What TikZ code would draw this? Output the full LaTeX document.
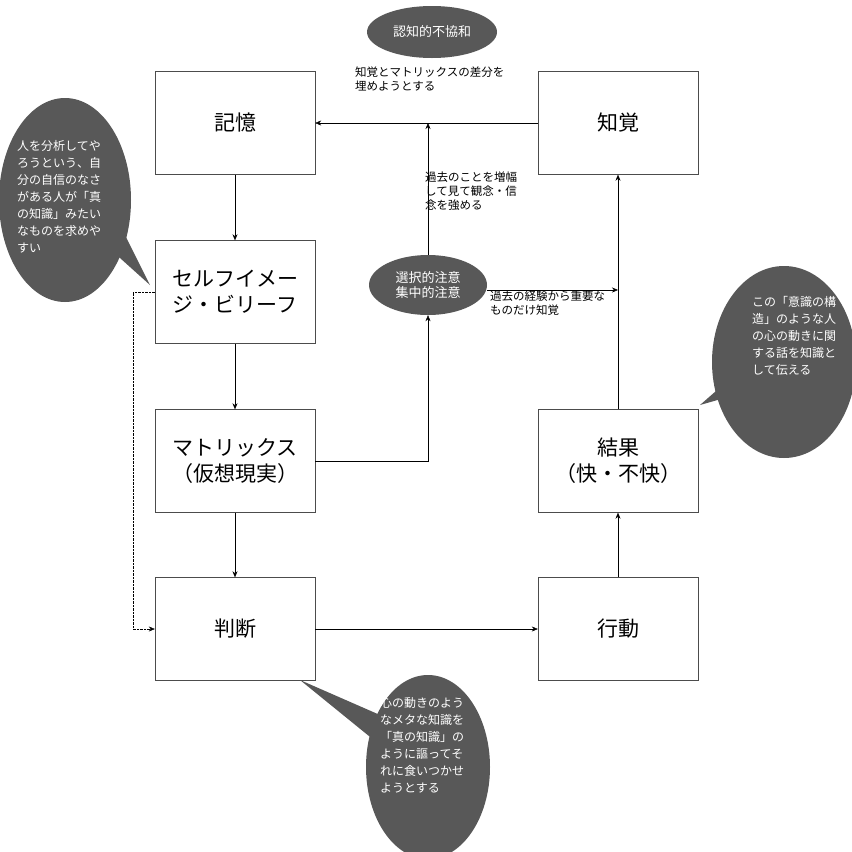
\documentclass[tikz,border=0pt]{standalone}
\usepackage{fontspec}
\setmainfont{Noto Sans CJK JP}
\usetikzlibrary{positioning,shapes.geometric,arrows.meta}
\definecolor{bubble}{HTML}{585858}
\begin{document}
\begin{tikzpicture}
  [x=1pt,y=-1pt,>={Stealth[length=6pt,width=5pt]},
  stage/.style={rectangle,draw=black!70,fill=white,thin,
                minimum width=160pt,minimum height=103pt,font=\fontsize{21}{26}\selectfont,align=center},
  focus/.style={ellipse,fill=bubble,text=white,inner sep=0pt,font=\fontsize{13}{15}\selectfont,align=center},
  note/.style={font=\fontsize{11.5}{14}\selectfont,align=left,inner sep=0pt,anchor=north west},
  talk/.style={fill=bubble,draw=none},
  talktext/.style={text=white,font=\fontsize{12}{17}\selectfont,align=left,inner sep=0pt,anchor=north west}]
  \useasboundingbox (0,0) rectangle (852,852);

  % callout bubbles
  \fill[talk] (65,200) ellipse (66pt and 102pt);
  \fill[talk] (100,240) -- (150,285) -- (115,215) -- cycle;
  \fill[talk] (784,362) ellipse (72pt and 96pt);
  \fill[talk] (740,370) -- (700,405) -- (735,395) -- cycle;
  \fill[talk] (428,767) ellipse (62pt and 92pt);
  \fill[talk] (380,715) -- (300,680) -- (380,745) -- cycle;
  \node[talktext] (leftnote)  at (17,140) {人を分析してや\\ろうという、自\\分の自信のなさ\\がある人が「真\\の知識」みたい\\なものを求めや\\すい};
  \node[talktext] (rightnote) at (752,296) {この「意識の構\\造」のような人\\の心の動きに関\\する話を知識と\\して伝える};
  \node[talktext] (downnote)  at (380,697) {心の動きのよう\\なメタな知識を\\「真の知識」の\\ように謳ってそ\\れに食いつかせ\\ようとする};

  % stages
  \node[stage] (memory)    at (235,123) {記憶};
  \node[stage] (perceive)  at (618,123) {知覚};
  \node[stage] (selfimage) at (235,292) {セルフイメー\\ジ・ビリーフ};
  \node[stage] (matrix)    at (235,461) {マトリックス\\（仮想現実）};
  \node[stage] (judge)     at (235,629) {判断};
  \node[stage] (act)       at (618,629) {行動};
  \node[stage] (result)    at (618,461) {結果\\（快・不快）};
  \node[focus,minimum width=130pt,minimum height=52pt] (dissonance) at (432,32) {認知的不協和};
  \node[focus,minimum width=118pt,minimum height=60pt] (attention)  at (428,285) {選択的注意\\集中的注意};

  \coordinate (upjoin) at (428,123);
  \coordinate (mxjoin) at (428,461);
  \coordinate (spine)  at (618,290);
  \coordinate (dotA)   at (133,292);
  \coordinate (dotB)   at (133,629);

  \draw [->] (perceive) to (memory);
  \draw [->] (attention) to (upjoin);
  \draw [->] (memory) to (selfimage);
  \draw [->] (selfimage) to (matrix);
  \draw [->] (matrix) to (judge);
  \draw [->] (matrix.east) -- (mxjoin) -- (attention.south);
  \draw [->] (attention.east |- spine) to (spine);
  \draw [->] (judge) to (act);
  \draw [->] (act) to (result);
  \draw [->] (result) to (perceive);
  \draw [->,densely dotted] (selfimage.west) -- (dotA) -- (dotB) -- (judge.west);

  \node[note] (gaptext)  at (355,67)  {知覚とマトリックスの差分を\\埋めようとする};
  \node[note] (pasttext) at (425,172) {過去のことを増幅\\して見て観念・信\\念を強める};
  \node[note] (keytext)  at (490,291) {過去の経験から重要な\\ものだけ知覚};
\end{tikzpicture}
\end{document}
